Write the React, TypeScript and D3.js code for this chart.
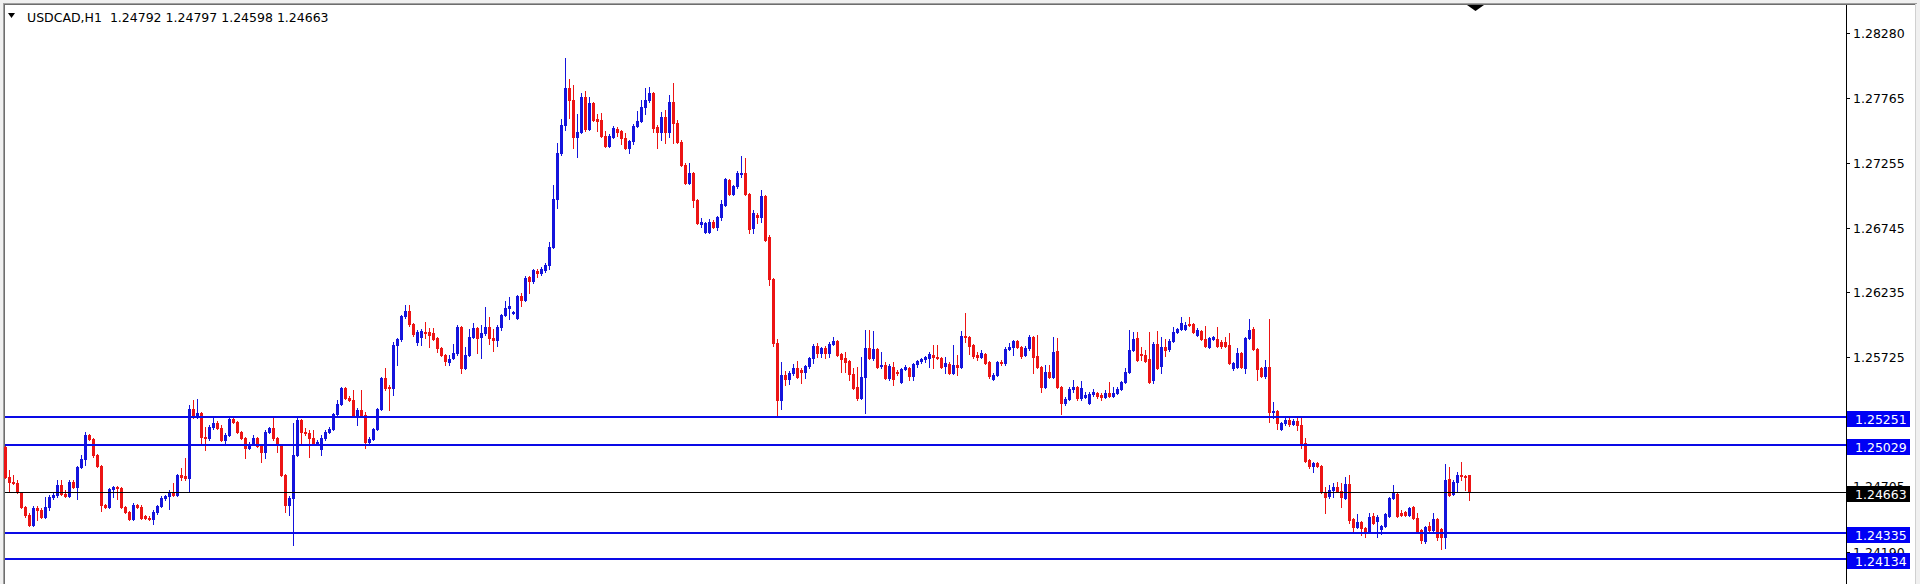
import React from "react";
import * as d3 from "d3";

const symbolTitle = "USDCAD,H1  1.24792 1.24797 1.24598 1.24663";

const opens = [
1.25013,1.24777,1.24737,1.24729,1.24658,1.24540,1.24477,1.24398,1.24532,1.24516,
1.24461,1.24540,1.24619,1.24634,1.24713,1.24642,1.24627,1.24737,1.24698,1.24855,
1.24919,1.25108,1.25076,1.24950,1.24863,1.24556,1.24540,1.24682,1.24698,1.24690,
1.24540,1.24500,1.24445,1.24556,1.24540,1.24469,1.24453,1.24445,1.24500,1.24548,
1.24611,1.24627,1.24658,1.24634,1.24792,1.24784,1.24769,1.25313,1.25258,1.25281,
1.25092,1.25084,1.25171,1.25203,1.25163,1.25068,1.25108,1.25234,1.25210,1.25132,
1.25084,1.25005,1.25037,1.25084,1.25021,1.24974,1.25132,1.25163,1.25084,1.25029,
1.24792,1.24556,1.24611,1.24950,1.25226,1.25132,1.25124,1.25084,1.25045,1.24997,
1.25084,1.25132,1.25155,1.25274,1.25352,1.25479,1.25400,1.25384,1.25266,1.25305,
1.25266,1.25053,1.25076,1.25155,1.25313,1.25558,1.25487,1.25479,1.25818,1.25865,
1.26047,1.26086,1.25984,1.25842,1.25881,1.25921,1.25921,1.25913,1.25873,1.25794,
1.25739,1.25684,1.25715,1.25755,1.25960,1.25637,1.25739,1.25881,1.25952,1.25881,
1.25913,1.25960,1.25873,1.25857,1.25960,1.26055,1.26110,1.26070,1.26031,1.26205,
1.26173,1.26355,1.26323,1.26402,1.26386,1.26410,1.26449,1.26591,1.26970,1.27333,
1.27554,1.27846,1.27751,1.27459,1.27499,1.27775,1.27522,1.27727,1.27601,1.27593,
1.27467,1.27388,1.27459,1.27522,1.27506,1.27451,1.27372,1.27428,1.27546,1.27585,
1.27696,1.27751,1.27806,1.27538,1.27499,1.27617,1.27499,1.27735,1.27570,1.27420,
1.27238,1.27096,1.27175,1.26962,1.26773,1.26710,1.26710,1.26788,1.26749,1.26828,
1.26923,1.27120,1.27009,1.27073,1.27167,1.27175,1.27009,1.26741,1.26844,1.26828,
1.26994,1.26670,1.26339,1.25834,1.25384,1.25581,1.25550,1.25597,1.25637,1.25621,
1.25605,1.25652,1.25715,1.25810,1.25755,1.25794,1.25755,1.25826,1.25850,1.25747,
1.25715,1.25692,1.25589,1.25487,1.25400,1.25566,1.25794,1.25715,1.25786,1.25652,
1.25660,1.25558,1.25644,1.25605,1.25526,1.25629,1.25637,1.25573,1.25668,1.25692,
1.25708,1.25715,1.25739,1.25723,1.25715,1.25652,1.25668,1.25597,1.25660,1.25644,
1.25889,1.25881,1.25818,1.25739,1.25723,1.25747,1.25684,1.25550,1.25581,1.25684,
1.25676,1.25786,1.25802,1.25850,1.25802,1.25739,1.25794,1.25881,1.25731,1.25644,
1.25487,1.25605,1.25566,1.25771,1.25487,1.25360,1.25392,1.25471,1.25487,1.25400,
1.25408,1.25360,1.25431,1.25439,1.25423,1.25408,1.25439,1.25416,1.25439,1.25471,
1.25526,1.25605,1.25779,1.25873,1.25747,1.25739,1.25708,1.25542,1.25826,1.25652,
1.25802,1.25786,1.25850,1.25921,1.25944,1.25944,1.25984,1.25984,1.25897,1.25928,
1.25865,1.25802,1.25865,1.25865,1.25842,1.25842,1.25818,1.25637,1.25644,1.25755,
1.25637,1.25873,1.25944,1.25786,1.25637,1.25573,1.25644,1.25289,1.25297,1.25155,
1.25203,1.25226,1.25195,1.25218,1.25187,1.25045,1.24911,1.24863,1.24887,1.24863,
1.24658,1.24627,1.24674,1.24698,1.24666,1.24611,1.24721,1.24445,1.24382,1.24421,
1.24374,1.24350,1.24469,1.24429,1.24366,1.24390,1.24469,1.24611,1.24642,1.24492,
1.24500,1.24477,1.24540,1.24453,1.24358,1.24272,1.24390,1.24358,1.24445,1.24366,
1.24303,1.24761,1.24642,1.24737,1.24792,1.24784,1.24792
];

const highs = [
1.25029,1.24832,1.24792,1.24753,1.24658,1.24548,1.24492,1.24548,1.24548,1.24532,
1.24619,1.24634,1.24650,1.24753,1.24753,1.24674,1.24753,1.24753,1.24863,1.24950,
1.25132,1.25116,1.25084,1.24958,1.24871,1.24563,1.24690,1.24706,1.24706,1.24698,
1.24548,1.24508,1.24571,1.24563,1.24556,1.24477,1.24469,1.24516,1.24556,1.24627,
1.24634,1.24674,1.24729,1.24800,1.24848,1.24926,1.25345,1.25384,1.25392,1.25289,
1.25171,1.25187,1.25250,1.25218,1.25187,1.25124,1.25242,1.25242,1.25218,1.25139,
1.25092,1.25053,1.25108,1.25092,1.25029,1.25147,1.25171,1.25250,1.25092,1.25037,
1.24800,1.24627,1.25203,1.25242,1.25234,1.25163,1.25147,1.25147,1.25068,1.25108,
1.25147,1.25171,1.25281,1.25384,1.25487,1.25487,1.25416,1.25463,1.25321,1.25463,
1.25289,1.25092,1.25163,1.25321,1.25566,1.25637,1.25502,1.25842,1.25873,1.26055,
1.26134,1.26134,1.25992,1.25936,1.25944,1.25999,1.25952,1.25952,1.25881,1.25802,
1.25747,1.25739,1.25826,1.25976,1.25968,1.25802,1.25944,1.25992,1.25960,1.25976,
1.26118,1.26039,1.25944,1.25976,1.26063,1.26165,1.26197,1.26086,1.26212,1.26228,
1.26362,1.26362,1.26418,1.26418,1.26433,1.26465,1.26631,1.27080,1.27412,1.27601,
1.28082,1.27917,1.27869,1.27641,1.27806,1.27822,1.27775,1.27735,1.27641,1.27648,
1.27506,1.27483,1.27546,1.27538,1.27514,1.27491,1.27435,1.27562,1.27664,1.27751,
1.27846,1.27854,1.27814,1.27554,1.27656,1.27672,1.27790,1.27885,1.27593,1.27435,
1.27254,1.27254,1.27183,1.26970,1.26820,1.26788,1.26812,1.26804,1.26836,1.26962,
1.27136,1.27128,1.27080,1.27191,1.27309,1.27293,1.27017,1.26883,1.26859,1.27041,
1.27001,1.26686,1.26347,1.25865,1.25684,1.25613,1.25613,1.25668,1.25692,1.25637,
1.25660,1.25723,1.25826,1.25834,1.25802,1.25810,1.25842,1.25881,1.25857,1.25755,
1.25763,1.25700,1.25637,1.25644,1.25723,1.25936,1.25936,1.25928,1.25794,1.25763,
1.25684,1.25668,1.25684,1.25621,1.25637,1.25660,1.25644,1.25676,1.25700,1.25715,
1.25731,1.25763,1.25818,1.25818,1.25723,1.25723,1.25684,1.25818,1.25739,1.25928,
1.26070,1.25889,1.25826,1.25763,1.25779,1.25755,1.25692,1.25597,1.25692,1.25700,
1.25802,1.25834,1.25857,1.25857,1.25810,1.25810,1.25897,1.25889,1.25897,1.25652,
1.25660,1.25660,1.25881,1.25873,1.25495,1.25408,1.25487,1.25542,1.25495,1.25534,
1.25447,1.25447,1.25471,1.25447,1.25439,1.25463,1.25526,1.25487,1.25487,1.25534,
1.25637,1.25936,1.25921,1.25921,1.25802,1.25779,1.25921,1.25842,1.25928,1.25881,
1.25865,1.25865,1.25960,1.25952,1.26039,1.25999,1.26039,1.25992,1.25952,1.25936,
1.25968,1.25881,1.25889,1.25960,1.25857,1.25881,1.25913,1.25684,1.25794,1.25763,
1.25881,1.26023,1.25960,1.25794,1.25644,1.25700,1.26023,1.25368,1.25305,1.25210,
1.25242,1.25242,1.25234,1.25242,1.25242,1.25084,1.24919,1.24895,1.24895,1.24871,
1.24698,1.24713,1.24729,1.24737,1.24729,1.24777,1.24792,1.24453,1.24485,1.24429,
1.24382,1.24492,1.24492,1.24477,1.24398,1.24492,1.24619,1.24713,1.24650,1.24516,
1.24508,1.24540,1.24548,1.24492,1.24366,1.24390,1.24421,1.24492,1.24453,1.24374,
1.24879,1.24855,1.24753,1.24816,1.24895,1.24792,1.24797
];

const lows = [
1.24769,1.24658,1.24721,1.24650,1.24532,1.24461,1.24390,1.24390,1.24437,1.24453,
1.24453,1.24516,1.24603,1.24619,1.24634,1.24619,1.24619,1.24690,1.24603,1.24848,
1.24871,1.25068,1.24934,1.24855,1.24508,1.24532,1.24532,1.24619,1.24603,1.24532,
1.24492,1.24437,1.24437,1.24532,1.24445,1.24445,1.24437,1.24406,1.24485,1.24540,
1.24595,1.24524,1.24627,1.24627,1.24753,1.24753,1.24658,1.25242,1.25242,1.25045,
1.24990,1.25068,1.25155,1.25155,1.25061,1.25029,1.25100,1.25203,1.25124,1.25076,
1.24926,1.24997,1.25029,1.25013,1.24895,1.24926,1.25124,1.25068,1.24974,1.24784,
1.24500,1.24477,1.24240,1.24942,1.25045,1.25108,1.24934,1.25029,1.25037,1.24950,
1.25068,1.25124,1.25147,1.25266,1.25345,1.25392,1.25376,1.25258,1.25187,1.25258,
1.25005,1.25045,1.25068,1.25147,1.25305,1.25463,1.25305,1.25423,1.25660,1.25850,
1.26031,1.25968,1.25889,1.25818,1.25818,1.25873,1.25802,1.25857,1.25763,1.25731,
1.25660,1.25660,1.25708,1.25739,1.25597,1.25629,1.25731,1.25873,1.25755,1.25715,
1.25897,1.25826,1.25771,1.25810,1.25936,1.26047,1.26023,1.26063,1.26023,1.26126,
1.26165,1.26228,1.26307,1.26355,1.26370,1.26394,1.26418,1.26583,1.26899,1.27317,
1.27514,1.27609,1.27372,1.27301,1.27491,1.27506,1.27514,1.27585,1.27506,1.27459,
1.27380,1.27380,1.27451,1.27467,1.27404,1.27364,1.27333,1.27404,1.27538,1.27577,
1.27641,1.27735,1.27499,1.27372,1.27435,1.27412,1.27459,1.27412,1.27412,1.27230,
1.27088,1.27088,1.26907,1.26773,1.26749,1.26702,1.26702,1.26741,1.26725,1.26804,
1.26915,1.27001,1.27001,1.27057,1.27144,1.27001,1.26702,1.26702,1.26781,1.26788,
1.26639,1.26291,1.25810,1.25250,1.25313,1.25502,1.25510,1.25581,1.25558,1.25518,
1.25558,1.25637,1.25676,1.25723,1.25723,1.25715,1.25723,1.25818,1.25731,1.25605,
1.25605,1.25542,1.25471,1.25384,1.25392,1.25281,1.25708,1.25700,1.25637,1.25637,
1.25550,1.25542,1.25502,1.25581,1.25518,1.25621,1.25542,1.25542,1.25644,1.25676,
1.25684,1.25644,1.25637,1.25708,1.25637,1.25597,1.25589,1.25589,1.25581,1.25637,
1.25842,1.25747,1.25715,1.25700,1.25715,1.25668,1.25558,1.25542,1.25573,1.25660,
1.25660,1.25779,1.25739,1.25794,1.25715,1.25731,1.25779,1.25597,1.25637,1.25447,
1.25479,1.25558,1.25558,1.25479,1.25274,1.25345,1.25384,1.25447,1.25384,1.25384,
1.25400,1.25352,1.25416,1.25400,1.25384,1.25400,1.25408,1.25408,1.25431,1.25463,
1.25518,1.25597,1.25771,1.25692,1.25700,1.25684,1.25518,1.25518,1.25629,1.25597,
1.25731,1.25771,1.25842,1.25913,1.25936,1.25936,1.25968,1.25913,1.25889,1.25857,
1.25802,1.25794,1.25857,1.25802,1.25794,1.25802,1.25668,1.25621,1.25637,1.25637,
1.25597,1.25865,1.25779,1.25542,1.25566,1.25558,1.25210,1.25242,1.25155,1.25147,
1.25187,1.25179,1.25187,1.25147,1.25005,1.24895,1.24848,1.24816,1.24855,1.24650,
1.24492,1.24611,1.24619,1.24658,1.24540,1.24603,1.24414,1.24335,1.24374,1.24319,
1.24303,1.24343,1.24406,1.24303,1.24327,1.24382,1.24461,1.24603,1.24461,1.24469,
1.24469,1.24469,1.24445,1.24343,1.24256,1.24256,1.24350,1.24335,1.24279,1.24208,
1.24216,1.24627,1.24634,1.24666,1.24753,1.24674,1.24598
];

const closes = [
1.24777,1.24737,1.24729,1.24658,1.24540,1.24477,1.24398,1.24532,1.24516,1.24461,
1.24540,1.24619,1.24634,1.24713,1.24642,1.24627,1.24737,1.24698,1.24855,1.24919,
1.25108,1.25076,1.24950,1.24863,1.24556,1.24540,1.24682,1.24698,1.24690,1.24540,
1.24500,1.24445,1.24556,1.24540,1.24453,1.24453,1.24445,1.24500,1.24548,1.24611,
1.24627,1.24658,1.24634,1.24792,1.24777,1.24769,1.25313,1.25258,1.25281,1.25092,
1.25084,1.25171,1.25203,1.25163,1.25068,1.25108,1.25234,1.25210,1.25132,1.25084,
1.25005,1.25037,1.25084,1.25021,1.24974,1.25132,1.25163,1.25084,1.25029,1.24792,
1.24556,1.24611,1.24950,1.25226,1.25132,1.25124,1.25084,1.25045,1.25053,1.25084,
1.25132,1.25155,1.25274,1.25352,1.25479,1.25400,1.25384,1.25266,1.25305,1.25266,
1.25053,1.25076,1.25155,1.25313,1.25558,1.25479,1.25479,1.25818,1.25865,1.26047,
1.26086,1.25984,1.25905,1.25921,1.25928,1.25913,1.25897,1.25865,1.25794,1.25739,
1.25692,1.25708,1.25755,1.25960,1.25637,1.25739,1.25881,1.25952,1.25873,1.25913,
1.25960,1.25873,1.25857,1.25960,1.26055,1.26110,1.26126,1.26078,1.26205,1.26173,
1.26347,1.26323,1.26410,1.26386,1.26418,1.26449,1.26591,1.26970,1.27333,1.27554,
1.27846,1.27751,1.27459,1.27499,1.27775,1.27522,1.27727,1.27593,1.27585,1.27467,
1.27388,1.27467,1.27530,1.27499,1.27451,1.27372,1.27428,1.27546,1.27585,1.27696,
1.27751,1.27806,1.27530,1.27499,1.27617,1.27499,1.27735,1.27570,1.27420,1.27238,
1.27096,1.27175,1.26962,1.26781,1.26788,1.26781,1.26788,1.26749,1.26828,1.26930,
1.27128,1.27009,1.27073,1.27175,1.27175,1.27009,1.26733,1.26859,1.26828,1.26994,
1.26646,1.26339,1.25834,1.25384,1.25581,1.25550,1.25597,1.25637,1.25566,1.25605,
1.25652,1.25715,1.25810,1.25755,1.25794,1.25755,1.25826,1.25850,1.25739,1.25708,
1.25684,1.25589,1.25479,1.25400,1.25566,1.25794,1.25715,1.25786,1.25644,1.25660,
1.25558,1.25652,1.25550,1.25597,1.25629,1.25644,1.25573,1.25668,1.25692,1.25708,
1.25723,1.25747,1.25723,1.25715,1.25644,1.25676,1.25597,1.25660,1.25644,1.25889,
1.25881,1.25810,1.25731,1.25723,1.25755,1.25676,1.25573,1.25581,1.25684,1.25676,
1.25786,1.25802,1.25850,1.25802,1.25731,1.25794,1.25881,1.25723,1.25644,1.25487,
1.25605,1.25566,1.25763,1.25487,1.25360,1.25392,1.25471,1.25487,1.25400,1.25479,
1.25423,1.25431,1.25447,1.25416,1.25408,1.25439,1.25416,1.25439,1.25471,1.25526,
1.25605,1.25779,1.25865,1.25700,1.25739,1.25692,1.25526,1.25826,1.25637,1.25802,
1.25779,1.25850,1.25921,1.25944,1.25992,1.25976,1.25976,1.25921,1.25936,1.25865,
1.25810,1.25873,1.25881,1.25810,1.25810,1.25810,1.25676,1.25676,1.25755,1.25644,
1.25873,1.25936,1.25786,1.25629,1.25573,1.25644,1.25289,1.25297,1.25203,1.25203,
1.25226,1.25195,1.25218,1.25187,1.25045,1.24903,1.24863,1.24887,1.24863,1.24658,
1.24619,1.24674,1.24698,1.24666,1.24619,1.24721,1.24437,1.24382,1.24421,1.24374,
1.24343,1.24461,1.24414,1.24461,1.24390,1.24485,1.24611,1.24650,1.24469,1.24477,
1.24477,1.24532,1.24453,1.24350,1.24279,1.24382,1.24358,1.24445,1.24303,1.24303,
1.24753,1.24634,1.24737,1.24792,1.24784,1.24777,1.24663
];

const axisTicks = [1.2828, 1.27765, 1.27255, 1.26745, 1.26235, 1.25725, 1.25215, 1.24705, 1.2419];
const blueLevels = [1.25251, 1.25029, 1.24335, 1.24134];
const bidLevel = 1.24663;

const W = 1920;
const H = 584;
const PLOT_LEFT = 5;
const AXIS_X = 1846;
const FONT = "'DejaVu Sans', Verdana, sans-serif";
const BULL = "#1414dc";
const BEAR = "#ec1414";
const LEVEL_BLUE = "#0a0ae6";
const BOX_BLUE = "#0000f5";

export default function App() {
  const n = closes.length;
  const x = d3.scaleLinear().domain([0, n - 1]).range([5, 1469]);
  const y = d3.scaleLinear().domain([1.2828, 1.24134]).range([33, 558.7]);
  const fmt = d3.format(".5f");

  const candles = d3.range(n).map((i) => {
    const o = opens[i], h = highs[i], l = lows[i], c = closes[i];
    const cx = Math.round(x(i));
    const top = Math.round(y(Math.max(o, c)));
    const bot = Math.round(y(Math.min(o, c)));
    const hi = Math.round(y(Math.max(h, o, c)));
    const lo = Math.round(y(Math.min(l, o, c)));
    const col = c >= o ? BULL : BEAR;
    return (
      <g key={i}>
        <rect x={cx} y={hi} width={1} height={Math.max(1, lo - hi + 1)} fill={col} />
        <rect x={cx - 1} y={top} width={3} height={Math.max(1, bot - top + 1)} fill={col} />
      </g>
    );
  });

  return (
    <div style={{ position: "absolute", left: 0, top: 0 }}>
      <svg width={W} height={H} style={{ display: "block" }}>
        <rect x={0} y={0} width={W} height={H} fill="#f0f0f0" />
        <rect x={4} y={4} width={W - 8} height={H - 4} fill="#ffffff" />
        <rect x={3} y={3} width={W - 6} height={1} fill="#a0a0a0" />
        <rect x={3} y={3} width={1} height={H - 3} fill="#a0a0a0" />
        <rect x={4} y={4} width={W - 8} height={1} fill="#6e6e6e" />
        <rect x={4} y={4} width={1} height={H - 4} fill="#6e6e6e" />
        <rect x={W - 5} y={4} width={1} height={H - 4} fill="#d0d0d0" />

        {/* title */}
        <polygon points="8,13 15,13 11.5,18" fill="#000" />
        <text x={27} y={21.5} fontFamily={FONT} fontSize={12.5} fill="#000" style={{ whiteSpace: "pre" }}>
          {symbolTitle}
        </text>

        {/* shift marker */}
        <polygon points="1467,5 1484,5 1475.5,11" fill="#000" />

        {/* axis line */}
        <rect x={AXIS_X} y={5} width={1} height={H - 5} fill="#000" />

        {/* axis ticks */}
        {axisTicks.map((t) => {
          const ty = Math.round(y(t));
          return (
            <g key={t}>
              <rect x={AXIS_X + 1} y={ty} width={3} height={1} fill="#000" />
              <text x={1853} y={ty + 5} fontFamily={FONT} fontSize={12.5} fill="#000">
                {fmt(t)}
              </text>
            </g>
          );
        })}

        {/* candles */}
        {candles}

        {/* horizontal levels */}
        {blueLevels.map((p) => {
          const ly = Math.round(y(p));
          return <rect key={p} x={PLOT_LEFT} y={ly - 1} width={AXIS_X - PLOT_LEFT} height={2} fill={LEVEL_BLUE} />;
        })}
        <rect x={PLOT_LEFT} y={Math.round(y(bidLevel))} width={AXIS_X - PLOT_LEFT} height={1} fill="#000" />

        {/* price boxes */}
        {blueLevels.map((p) => {
          const ly = Math.round(y(p));
          return (
            <g key={"b" + p}>
              <rect x={1847} y={ly - 6} width={63} height={16} fill={BOX_BLUE} />
              <text x={1855} y={ly + 7} fontFamily={FONT} fontSize={12.5} fill="#fff">
                {fmt(p)}
              </text>
            </g>
          );
        })}
        {(() => {
          const ly = Math.round(y(bidLevel));
          return (
            <g>
              <rect x={1847} y={ly - 6} width={63} height={16} fill="#000" />
              <text x={1855} y={ly + 7} fontFamily={FONT} fontSize={12.5} fill="#fff">
                {fmt(bidLevel)}
              </text>
            </g>
          );
        })()}
      </svg>
    </div>
  );
}
